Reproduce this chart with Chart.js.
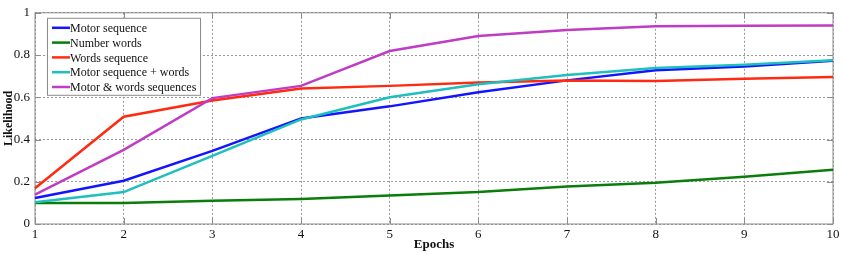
<!DOCTYPE html>
<html>
<head>
<meta charset="utf-8">
<script src="https://cdn.jsdelivr.net/npm/chart.js@4/dist/chart.umd.min.js"></script>
<style>
  html, body { margin: 0; padding: 0; background: #fff; }
  #wrap { width: 843px; height: 255px; }
</style>
</head>
<body>
<div id="wrap"><canvas id="chart"></canvas></div>
<script>
// epochs on the x axis
const epochs = ['1', '2', '3', '4', '5', '6', '7', '8', '9', '10'];
const yTicks = [0, 0.2, 0.4, 0.6, 0.8, 1];

// likelihood per series
const motorSequence = [0.123, 0.205, 0.346, 0.500, 0.557, 0.624, 0.680, 0.728, 0.746, 0.773];
const numberWords = [0.100, 0.100, 0.110, 0.118, 0.135, 0.151, 0.177, 0.195, 0.224, 0.257];
const wordsSequence = [0.169, 0.508, 0.585, 0.642, 0.654, 0.670, 0.680, 0.677, 0.688, 0.696];
const motorPlusWords = [0.103, 0.151, 0.323, 0.495, 0.600, 0.662, 0.705, 0.739, 0.754, 0.775];
const motorAndWords = [0.139, 0.351, 0.596, 0.654, 0.819, 0.890, 0.918, 0.936, 0.939, 0.940];

const seriesNames = ['Motor sequence', 'Number words', 'Words sequence', 'Motor sequence + words', 'Motor & words sequences'];
const seriesColors = ['#1414ff', '#0a7d0a', '#ff2a10', '#1fbfbf', '#bf3cc4'];
const seriesData = [motorSequence, numberWords, wordsSequence, motorPlusWords, motorAndWords];

const serif = '"Liberation Serif", "DejaVu Serif", serif';

// legend box in the top-left corner of the plot, MATLAB style
const boxLegend = {
    id: 'boxLegend',
    afterDatasetsDraw(chart) {
        const ctx = chart.ctx;
        const area = chart.chartArea;
        const x0 = area.left + 12, y0 = area.top + 5;
        const w = 153, rowH = 14.8;
        const h = rowH * chart.data.datasets.length + 3;
        ctx.save();
        ctx.fillStyle = '#fff';
        ctx.fillRect(x0, y0, w, h);
        ctx.strokeStyle = '#8c8c8c';
        ctx.lineWidth = 1;
        ctx.strokeRect(x0 + 0.5, y0 + 0.5, w, h);
        ctx.font = '12px ' + serif;
        ctx.textBaseline = 'middle';
        chart.data.datasets.forEach((ds, i) => {
            const y = y0 + 10 + i * rowH;
            ctx.strokeStyle = ds.borderColor;
            ctx.lineWidth = 2.5;
            ctx.beginPath();
            ctx.moveTo(x0 + 5, y);
            ctx.lineTo(x0 + 23, y);
            ctx.stroke();
            ctx.fillStyle = '#111';
            ctx.fillText(ds.label, x0 + 23, y + 1);
        });
        ctx.restore();
    }
};

// small inward tick marks on all four sides of the box
const innerTicks = {
    id: 'innerTicks',
    beforeDatasetsDraw(chart) {
        const ctx = chart.ctx;
        const a = chart.chartArea;
        const xs = chart.scales.x, ys = chart.scales.y;
        ctx.save();
        ctx.strokeStyle = '#8c8c8c';
        ctx.lineWidth = 1;
        ctx.beginPath();
        epochs.forEach((e, i) => {
            const px = Math.round(xs.getPixelForValue(i)) + 0.5;
            ctx.moveTo(px, a.bottom); ctx.lineTo(px, a.bottom - 6);
            ctx.moveTo(px, a.top); ctx.lineTo(px, a.top + 6);
        });
        yTicks.forEach(v => {
            const py = Math.round(ys.getPixelForValue(v)) + 0.5;
            ctx.moveTo(a.left, py); ctx.lineTo(a.left + 6, py);
            ctx.moveTo(a.right, py); ctx.lineTo(a.right - 6, py);
        });
        ctx.stroke();
        ctx.strokeRect(a.left, a.top, a.right - a.left, a.bottom - a.top);
        ctx.restore();
    }
};

new Chart(document.getElementById('chart'), {
    type: 'line',
    data: {
        labels: epochs,
        datasets: seriesData.map((d, i) => ({
            label: seriesNames[i],
            data: d,
            borderColor: seriesColors[i],
            backgroundColor: seriesColors[i],
            borderWidth: 2.5,
            pointRadius: 0,
            tension: 0,
            fill: false,
            order: seriesData.length - i
        }))
    },
    options: {
        responsive: true,
        maintainAspectRatio: false,
        animation: false,
        layout: { padding: { top: 8, right: 10, left: 0, bottom: 0 } },
        plugins: {
            legend: { display: false },
            tooltip: { enabled: false }
        },
        scales: {
            x: {
                offset: false,
                grid: {
                    color: '#9a9a9a',
                    lineWidth: 1,
                    drawTicks: false
                },
                border: { display: false, dash: [2, 2] },
                ticks: {
                    color: '#111',
                    padding: 3,
                    maxRotation: 0,
                    font: { family: serif, size: 13 }
                },
                title: {
                    display: true,
                    text: 'Epochs',
                    color: '#111',
                    padding: { top: 0, bottom: 3 },
                    font: { family: serif, size: 13, weight: 'bold' }
                },
                afterFit(scale) { scale.height = 31; }
            },
            y: {
                min: 0,
                max: 1,
                grid: {
                    color: '#9a9a9a',
                    lineWidth: 1,
                    drawTicks: false
                },
                border: { display: false, dash: [2, 2] },
                ticks: {
                    stepSize: 0.2,
                    color: '#111',
                    padding: 5,
                    font: { family: serif, size: 13 },
                    callback: v => Math.round(v * 10) / 10
                },
                title: {
                    display: true,
                    text: 'Likelihood',
                    color: '#111',
                    padding: { top: 2, bottom: 0 },
                    font: { family: serif, size: 12, weight: 'bold' }
                },
                afterFit(scale) { scale.width = 35; }
            }
        }
    },
    plugins: [innerTicks, boxLegend]
});
</script>
</body>
</html>
